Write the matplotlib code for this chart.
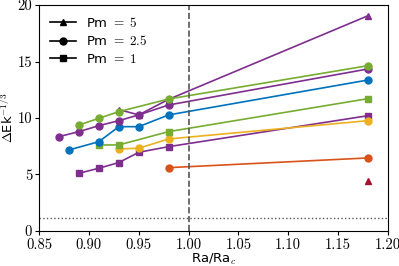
import numpy as np
import matplotlib
matplotlib.use('Agg')
import matplotlib.pyplot as plt
from matplotlib.ticker import FuncFormatter
from matplotlib.lines import Line2D

plt.rcParams['mathtext.fontset'] = 'cm'

# MATLAB-like colours
blue = '#0072BD'
orange = '#D95319'
yellow = '#EDB120'
purple = '#7E2F8E'
green = '#77AC30'
darkred = '#A2142F'

# Pm = 5 (triangles)
x_tri_p = [0.93, 0.95, 0.98, 1.18]
y_tri_p = [10.75, 10.27, 11.65, 19.05]
x_tri_r = [1.18]
y_tri_r = [4.45]

# Pm = 2.5 (circles)
x_cir_g = [0.89, 0.91, 0.93, 0.98, 1.18]
y_cir_g = [9.38, 9.97, 10.56, 11.68, 14.63]
x_cir_p = [0.87, 0.89, 0.91, 0.93, 0.95, 0.98, 1.18]
y_cir_p = [8.35, 8.79, 9.32, 9.76, 10.27, 11.15, 14.34]
x_cir_b = [0.88, 0.91, 0.93, 0.95, 0.98, 1.18]
y_cir_b = [7.17, 7.9, 9.23, 9.23, 10.27, 13.36]
x_cir_y = [0.93, 0.95, 0.98, 1.18]
y_cir_y = [7.26, 7.32, 8.14, 9.76]
x_cir_o = [0.98, 1.18]
y_cir_o = [5.6, 6.46]

# Pm = 1 (squares)
x_sq_g = [0.91, 0.93, 0.98, 1.18]
y_sq_g = [7.61, 7.61, 8.79, 11.71]
x_sq_p = [0.89, 0.91, 0.93, 0.95, 0.98, 1.18]
y_sq_p = [5.1, 5.55, 6.05, 6.96, 7.46, 10.2]

crit_x = 1.0
ref_y = 1.1

fig = plt.figure(figsize=(3.99, 2.66), dpi=100)
ax = fig.add_axes([0.098, 0.132, 0.874, 0.849])

ms = 5
lw = 1.2
ax.plot(x_cir_o, y_cir_o, '-o', color=orange, ms=ms, lw=lw)
ax.plot(x_sq_p, y_sq_p, '-s', color=purple, ms=ms, lw=lw)
ax.plot(x_cir_y, y_cir_y, '-o', color=yellow, ms=ms, lw=lw)
ax.plot(x_sq_g, y_sq_g, '-s', color=green, ms=ms, lw=lw)
ax.plot(x_cir_b, y_cir_b, '-o', color=blue, ms=ms, lw=lw)
ax.plot(x_tri_p, y_tri_p, '-^', color=purple, ms=ms, lw=lw)
ax.plot(x_cir_p, y_cir_p, '-o', color=purple, ms=ms, lw=lw)
ax.plot(x_cir_g, y_cir_g, '-o', color=green, ms=ms, lw=lw)
ax.plot(x_tri_r, y_tri_r, '^', color=darkred, ms=ms)

ax.axvline(crit_x, color='#555555', ls='--', lw=1.2)
ax.axhline(ref_y, color='#555555', ls=':', lw=1.0)

ax.set_xlim(0.85, 1.20)
ax.set_ylim(0, 20)
ax.set_xticks(np.arange(0.85, 1.201, 0.05))
ax.set_yticks([0, 5, 10, 15, 20])
ax.xaxis.set_major_formatter(FuncFormatter(lambda v, p: '%.2f' % v))
ax.yaxis.set_major_formatter(FuncFormatter(lambda v, p: '%d' % v))
ax.tick_params(labelsize=10.5, length=3, pad=2)
for lab in ax.get_xticklabels() + ax.get_yticklabels():
    lab.set_fontfamily('cmr10')

ax.set_xlabel(r'Ra/Ra$_c$', fontsize=9.5, labelpad=0)
ax.set_ylabel(r'$\Delta$Ek$^{-1/3}$', fontsize=9.5, labelpad=1)

handles = [Line2D([], [], color='k', marker='^', ms=ms, lw=lw),
           Line2D([], [], color='k', marker='o', ms=ms, lw=lw),
           Line2D([], [], color='k', marker='s', ms=ms, lw=lw)]
labels = [r'Pm ${=}\;5$', r'Pm ${=}\;2.5$', r'Pm ${=}\;1$']
ax.legend(handles, labels, loc='upper left', frameon=False, fontsize=9.5,
          handlelength=2.0, handletextpad=0.75, labelspacing=0.35,
          borderaxespad=0.4)

fig.savefig('out.png', dpi=100)
